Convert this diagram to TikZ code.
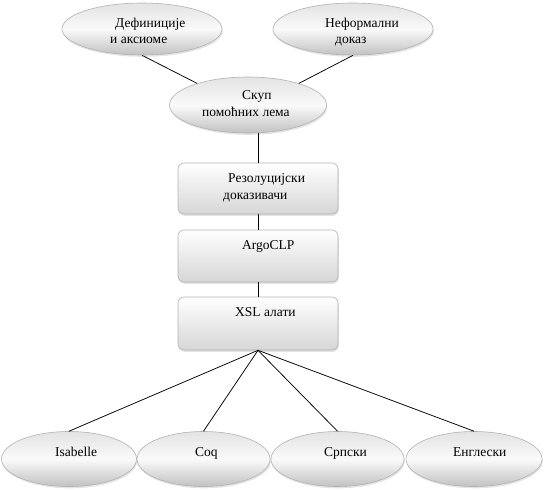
\documentclass[tikz,border=0pt]{standalone}
\usepackage{fontspec}
\setmainfont{Liberation Serif}
\usetikzlibrary{shapes.geometric,shadows}
\begin{document}
\begin{tikzpicture}[x=1pt,y=-1pt,
  ell/.style={ellipse, draw=gray!60, line width=0.6pt, top color=gray!22, bottom color=gray!48, middle color=gray!4, inner sep=0pt,
    drop shadow={opacity=0.22, shadow xshift=0.8pt, shadow yshift=-1.8pt}},
  boxnode/.style={rectangle, rounded corners=6pt, draw=gray!60, line width=0.6pt, top color=white, bottom color=gray!32, inner sep=0pt,
    drop shadow={opacity=0.22, shadow xshift=0.8pt, shadow yshift=-1.8pt}},
  txt/.style={font=\fontsize{13.5}{16}\selectfont, inner sep=0pt, anchor=base west},
  conn/.style={draw=black, line width=0.75pt}]
\useasboundingbox (0,0) rectangle (544,490);
% top ellipses
\node[ell, minimum width=160pt, minimum height=52pt] (def) at (142,29) {};
\node[ell, minimum width=160pt, minimum height=52pt] (inf) at (353,29) {};
% middle ellipse
\node[ell, minimum width=157pt, minimum height=56pt] (mid) at (248,105) {};
% boxes
\node[boxnode, minimum width=160pt, minimum height=51pt] (b1) at (258,188.5) {};
\node[boxnode, minimum width=160pt, minimum height=52pt] (b2) at (258,256) {};
\node[boxnode, minimum width=160pt, minimum height=53pt] (b3) at (258,323.5) {};
% bottom ellipses
\node[ell, minimum width=135pt, minimum height=55pt] (isa) at (69,459) {};
\node[ell, minimum width=133pt, minimum height=55pt] (coq) at (203.5,459) {};
\node[ell, minimum width=133pt, minimum height=55pt] (srp) at (337.5,459) {};
\node[ell, minimum width=136pt, minimum height=55pt] (eng) at (474,459) {};
% connectors
\draw[conn] (def.south) -- (mid.157);
\draw[conn] (inf.south) -- (mid.23);
\draw[conn] (b1.north) -- (b1.north |- mid.south);
\draw[conn] (b1.south) -- (b2.north);
\draw[conn] (b2.south) -- (b3.north);
\draw[conn] (b3.south) -- (isa.north);
\draw[conn] (b3.south) -- (coq.north);
\draw[conn] (b3.south) -- (srp.north);
\draw[conn] (b3.south) -- (eng.north);
% texts
\node[txt] (t1a) at (115,27) {Дефиниције};
\node[txt] (t1b) at (110,43) {и аксиоме};
\node[txt] (t2a) at (325,27) {Неформални};
\node[txt] (t2b) at (335,43) {доказ};
\node[txt] (t3a) at (242,99) {Скуп};
\node[txt] (t3b) at (202,116) {помоћних лема};
\node[txt] (t4a) at (228,182) {Резолуцијски};
\node[txt] (t4b) at (223,199) {доказивачи};
\node[txt] (t5) at (242,249) {ArgoCLP};
\node[txt] (t6) at (235,316) {XSL алати};
\node[txt] (t7) at (55,456) {Isabelle};
\node[txt] (t8) at (195,456) {Coq};
\node[txt] (t9) at (324,456) {Српски};
\node[txt] (t10) at (453,456) {Енглески};
\end{tikzpicture}
\end{document}
